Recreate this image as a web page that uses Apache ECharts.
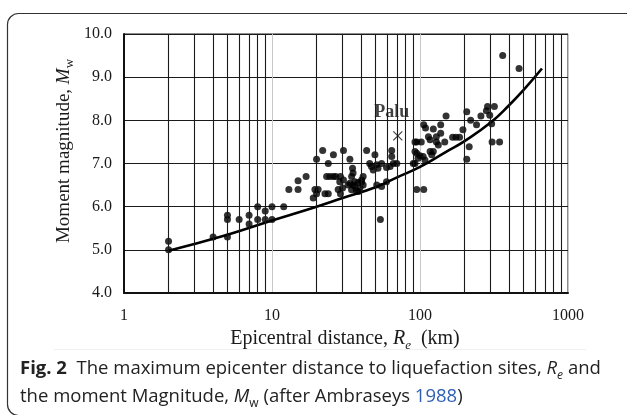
<!DOCTYPE html>
<html>
<head>
<meta charset="utf-8">
<script src="https://cdn.jsdelivr.net/npm/echarts@6/dist/echarts.min.js"></script>
<style>
html,body{margin:0;padding:0;background:#fff;}
#c{width:627px;height:415px;}
</style>
</head>
<body>
<div id="c"></div>
<script>
// ---- data ----
const xTickLabels = ['1', '10', '100', '1000'];
const yTickLabels = ['4.0', '5.0', '6.0', '7.0', '8.0', '9.0', '10.0'];
const minorGridR = [2,3,4,5,6,7,8,9,20,30,40,50,60,70,80,90,200,300,400,500,600,700,800,900];

// observed liquefaction cases: [epicentral distance km, Mw]
const cases = [
  [2,5.2],[2,5.0],[4,5.3],[5,5.3],[5,5.7],[5,5.8],[6,5.7],[7,5.6],[7,5.8],
  [8,5.7],[8,6.0],[9,5.7],[9,5.9],[10,5.7],[10,6.0],[12,6.0],[13,6.4],[15,6.4],
  [15,6.6],[17,6.7],[19,6.2],[19.5,6.4],[20,6.3],[20.5,6.4],[20,7.1],[22,7.3],
  [24,7.0],[23.4,6.7],[24.6,6.7],[26,6.7],[27,6.7],[29,6.7],[22.8,6.3],[24,6.3],
  [26,7.2],[28,6.4],[29,6.3],[30.4,7.3],[28.7,6.58],[30.4,6.62],[30,6.43],
  [33.6,7.1],[33.6,6.54],[34.5,6.7],[35.3,6.78],[35,6.89],[32.7,6.5],[35.3,6.5],
  [36.3,6.58],[38.3,6.56],[40.3,6.58],[41.3,6.5],[39.3,6.43],[38.3,6.35],
  [36.3,6.47],[37.2,6.37],[34.5,6.39],[41.3,6.7],[40.3,6.62],[43.6,7.3],[45.7,7.0],
  [47,6.93],[48.3,6.85],[49.6,7.2],[51,6.97],[52,6.89],[55,7.0],[59.4,6.91],
  [62.8,6.93],[64.4,7.16],[64.4,7.3],[66,7.0],[69.7,7.0],[51,6.5],[55,6.47],
  [59.4,6.58],[54,5.7],[90,7.0],[92.5,7.0],[92.5,7.5],[95,7.5],[92.5,7.28],
  [95,7.24],[97,7.12],[100,7.18],[105,7.16],[108,7.08],[102,7.5],[106,7.9],
  [109,7.82],[114,7.62],[117,7.55],[117,7.28],[120,7.2],[123,7.28],[123,7.8],
  [129,7.62],[129,7.5],[133,7.43],[138,7.9],[138,7.7],[147,7.5],[150,8.1],
  [166,7.61],[175,7.61],[185,7.61],[195,7.78],[207,8.2],[207,7.1],[215,7.39],
  [220,8.0],[241,7.9],[258,8.1],[281,8.22],[286,8.32],[296,8.12],[318,8.32],
  [305,7.92],[307,7.5],[345,7.5],[362,9.5],[467,9.2],[95,6.4],[106,6.4]
];
const palu = [[70.8, 7.64]];

// bounding curve (Ambraseys 1988)
const boundR = [2, 5, 10, 20, 30, 50, 70, 100, 150, 200, 300, 400, 500, 667];
const boundM = [4.98, 5.35, 5.68, 6.0, 6.2, 6.45, 6.68, 6.92, 7.27, 7.52, 7.95, 8.35, 8.7, 9.2];

const chart = echarts.init(document.getElementById('c'), null, {renderer: 'canvas'});
const serif = '"Liberation Serif", "Times New Roman", serif';
const sans = '"Open Sans", "Noto Sans", sans-serif';

const option = {
  animation: false,
  backgroundColor: '#fff',
  grid: {left: 124, right: 59, top: 34, bottom: 122, show: true, borderColor: '#1a1a1a', borderWidth: 1},
  xAxis: {
    type: 'log', logBase: 10, min: 1, max: 1000,
    axisLine: {show: true, lineStyle: {color: '#111', width: 2}},
    axisTick: {show: false},
    axisLabel: {
      fontFamily: serif, fontSize: 16, color: '#1a1a1a', margin: 15,
      formatter: v => { const s = String(Math.round(v)); return xTickLabels.indexOf(s) >= 0 ? s : ''; }
    },
    splitLine: {show: true, lineStyle: {color: '#c8c8c8', width: 1}}
  },
  yAxis: {
    type: 'value', min: 4, max: 10, interval: 1,
    axisLine: {show: true, lineStyle: {color: '#111', width: 2}},
    axisTick: {show: false},
    axisLabel: {
      fontFamily: serif, fontSize: 16, color: '#1a1a1a', margin: 12,
      formatter: v => yTickLabels[Math.round(v - 4)]
    },
    splitLine: {show: true, lineStyle: {color: '#1a1a1a', width: 1.1}}
  },
  series: [
    {
      type: 'line', data: [], z: 1, silent: true,
      markLine: {
        silent: true, symbol: ['none', 'none'], animation: false,
        label: {show: false},
        lineStyle: {type: 'solid', color: '#1a1a1a', width: 1.1},
        emphasis: {disabled: true},
        data: minorGridR.map(r => ({xAxis: r}))
      }
    },
    {
      type: 'line', z: 3, smooth: true, symbol: 'none',
      lineStyle: {color: '#000', width: 2.6},
      data: boundR.map((r, i) => [r, boundM[i]])
    },
    {
      type: 'scatter', z: 4, symbol: 'circle', symbolSize: 7,
      itemStyle: {color: '#000'},
      data: cases
    },
    {
      type: 'scatter', z: 4,
      symbol: 'path://M0,0L10,10M10,0L0,10', symbolSize: 9,
      itemStyle: {color: 'none', borderColor: '#111', borderWidth: 1.2},
      label: {
        show: true, position: 'top', offset: [-6, -3],
        formatter: 'Palu', fontFamily: serif, fontWeight: 'bold', fontSize: 18, color: '#111'
      },
      data: palu
    }
  ],
  graphic: [
    {
      type: 'rect', silent: true, z: -1,
      shape: {x: 7.5, y: 13.5, width: 650, height: 402, r: 11},
      style: {fill: 'none', stroke: '#333', lineWidth: 1.2}
    },
    {
      type: 'rect', silent: true,
      shape: {x: 54, y: 349, width: 532, height: 1},
      style: {fill: '#f0f0f0'}
    },
    {
      type: 'text', silent: true,
      x: 64, y: 151, rotation: Math.PI / 2,
      style: {
        text: '{n|Moment magnitude, }{i|M}{s|w}',
        align: 'center', verticalAlign: 'middle',
        rich: {
          n: {fontFamily: serif, fontSize: 19, fill: '#1a1a1a', verticalAlign: 'bottom'},
          i: {fontFamily: serif, fontSize: 19, fontStyle: 'italic', fill: '#1a1a1a', verticalAlign: 'bottom'},
          s: {fontFamily: serif, fontSize: 13, fill: '#1a1a1a', verticalAlign: 'bottom', padding: [0, 0, -3, 0]}
        }
      }
    },
    {
      type: 'text', silent: true,
      x: 345, y: 339,
      style: {
        text: '{n|Epicentral distance, }{i|R}{s|e}{n|  (km)}',
        align: 'center', verticalAlign: 'middle',
        rich: {
          n: {fontFamily: serif, fontSize: 20, fill: '#1a1a1a', verticalAlign: 'bottom'},
          i: {fontFamily: serif, fontSize: 20, fontStyle: 'italic', fill: '#1a1a1a', verticalAlign: 'bottom'},
          s: {fontFamily: serif, fontSize: 13, fontStyle: 'italic', fill: '#1a1a1a', verticalAlign: 'bottom', padding: [0, 0, -3, 0]}
        }
      }
    },
    {
      type: 'text', silent: true,
      x: 20, y: 369,
      style: {
        text: '{b|Fig. 2}{n|  The maximum epicenter distance to liquefaction sites, }{i|R}{s|e}{n| and}',
        align: 'left', verticalAlign: 'middle',
        rich: {
          b: {fontFamily: sans, fontSize: 18.5, fontWeight: 'bold', fill: '#222', verticalAlign: 'bottom'},
          n: {fontFamily: sans, fontSize: 18.5, fill: '#222', verticalAlign: 'bottom'},
          i: {fontFamily: sans, fontSize: 18.5, fontStyle: 'italic', fill: '#222', verticalAlign: 'bottom'},
          s: {fontFamily: sans, fontSize: 12, fontStyle: 'italic', fill: '#222', verticalAlign: 'bottom', padding: [0, 0, -3, 0]}
        }
      }
    },
    {
      type: 'text', silent: true,
      x: 20, y: 397,
      style: {
        text: '{n|the moment Magnitude, }{i|M}{s|w}{n| (after Ambraseys }{l|1988}{n|)}',
        align: 'left', verticalAlign: 'middle',
        rich: {
          n: {fontFamily: sans, fontSize: 18.5, fill: '#222', verticalAlign: 'bottom'},
          i: {fontFamily: sans, fontSize: 18.5, fontStyle: 'italic', fill: '#222', verticalAlign: 'bottom'},
          s: {fontFamily: sans, fontSize: 12, fill: '#222', verticalAlign: 'bottom', padding: [0, 0, -3, 0]},
          l: {fontFamily: sans, fontSize: 18.5, fill: '#2f5fb3', verticalAlign: 'bottom'}
        }
      }
    }
  ]
};
chart.setOption(option);
</script>
</body>
</html>
